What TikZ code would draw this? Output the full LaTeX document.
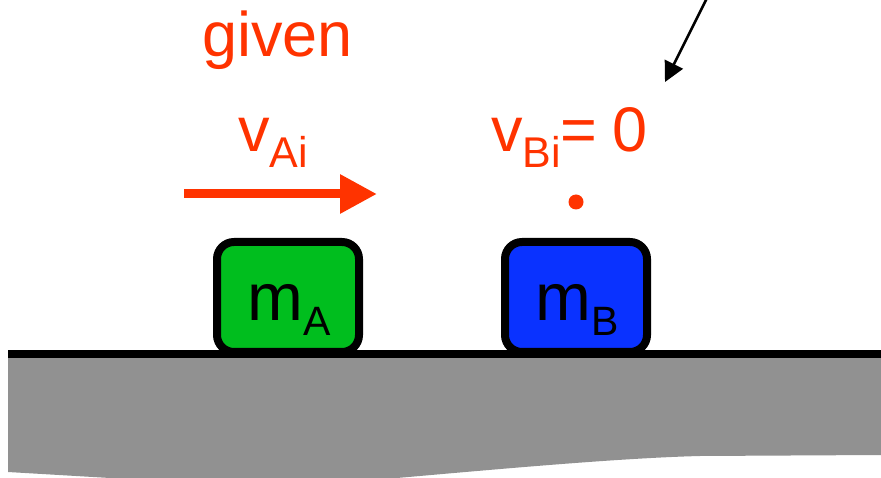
\documentclass[tikz,border=0pt]{standalone}
\usepackage{fontspec}
\setmainfont{Liberation Sans}
\usetikzlibrary{arrows.meta}
\definecolor{redtxt}{HTML}{FF3300}
\definecolor{groundgray}{HTML}{919191}
\definecolor{blockgreen}{HTML}{00BE1E}
\definecolor{blockblue}{HTML}{0A32FF}
\newcommand{\lowsub}[3]{\raisebox{-#1pt}{\fontsize{#2}{#2}\selectfont #3}}
\begin{document}
\begin{tikzpicture}[x=1pt,y=-1pt,
  blockbox/.style={draw=black, line width=8pt, rounded corners=17pt, minimum width=142pt, minimum height=110pt, inner sep=0pt},
  redlabel/.style={text=redtxt, inner sep=0pt, font=\fontsize{63}{70}\selectfont, anchor=base west},
  masslabel/.style={inner sep=0pt, font=\fontsize{67}{75}\selectfont, anchor=base},
]
\useasboundingbox (0,0) rectangle (881,478);
% ground
\fill[groundgray] (8,356) -- (881,356) -- (881,455) -- (700,456)
  .. controls (620,458) and (500,469) .. (397,478) -- (110,478) -- (8,472) -- cycle;
\coordinate (gl) at (8,354);
\coordinate (gr) at (881,354);
\draw[line width=7pt] (gl) -- (gr);
% blocks
\node[blockbox, fill=blockgreen] (blockA) at (288,297) {};
\node[blockbox, fill=blockblue] (blockB) at (576,297) {};
\node[masslabel] (labA) at (289,320) {m\lowsub{16}{41}{A}};
\node[masslabel] (labB) at (577,320) {m\lowsub{16}{41}{B}};
% red labels
\node[redlabel] (given) at (202,57) {given};
\node[redlabel] (vA) at (238,152) {v\lowsub{16}{43}{Ai}};
\node[redlabel] (vB) at (491,152) {v\lowsub{16}{43}{Bi}};
\node[redlabel] (eq) at (560,152) {=};
\node[redlabel] (zero) at (612,152) {0};
% velocity arrow
\coordinate (arrS) at (184,194);
\coordinate (arrE) at (377,194);
\draw[redtxt, line width=9pt, -{Triangle[length=37pt,width=37pt]}] (arrS) -- (arrE);
% dot
\node[circle, fill=redtxt, minimum size=15pt, inner sep=0pt] (dot) at (576,202) {};
% pointer arrow
\coordinate (pS) at (707,-2);
\coordinate (pT) at (665,82);
\draw[line width=2.5pt, -{Triangle[length=20pt,width=20pt]}] (pS) -- (pT);
\end{tikzpicture}
\end{document}
